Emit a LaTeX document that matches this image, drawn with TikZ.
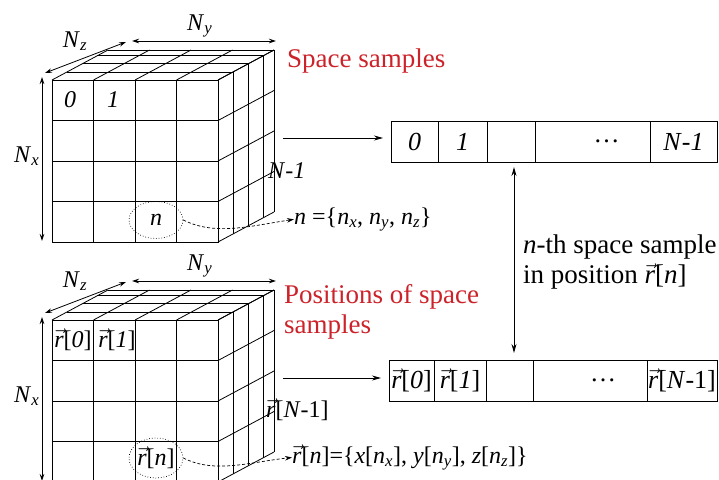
\documentclass[tikz,border=0pt]{standalone}
\usepackage{fontspec}
\setmainfont{Liberation Serif}
\usetikzlibrary{positioning,arrows.meta,calc,shapes.geometric}
\definecolor{labelred}{RGB}{204,34,41}

\newcommand{\vr}{$\vec{\textit{r}}$}
\newcommand{\isub}[2]{\textit{#1}\textsubscript{\textit{#2}}}

% grid of one cube: 4x4 front cells, 4 slices in depth
\newcommand{\drawcube}{%
  \draw[cube] (52,80) rectangle (218,242);
  \foreach \i in {1,2,3} {
    \draw[cube] (52+41.5*\i,80) -- (52+41.5*\i,242);
    \draw[cube] (52,80+40.5*\i) -- (218,80+40.5*\i);
  }
  \foreach \i in {0,...,4}
    \draw[cube] (52+41.5*\i,80) -- ++(56,-30);
  \foreach \j in {0,...,4}
    \draw[cube] (218,80+40.5*\j) -- ++(56,-30);
  \foreach \f in {0.27,0.55,0.81,1} {
    \draw[cube] (52+56*\f,80-30*\f) -- ++(166,0);
    \draw[cube] (218+56*\f,80-30*\f) -- ++(0,162);
  }
}

% dimension arrows and their labels
\newcommand{\cubedims}[1]{%
  \draw[dim] (45,73) -- (126,42);
  \draw[dim] (132,41) -- (276,41);
  \draw[dim] (42,77) -- (42,241);
  \node[lbl, anchor=base] (#1nz) at (75,47) {\isub{N}{z}};
  \node[lbl, anchor=base west] (#1ny) at (187,30) {\isub{N}{y}};
  \node[lbl, anchor=base west] (#1nx) at (14,162) {\isub{N}{x}};
}

\begin{document}
\begin{tikzpicture}[
    x=1pt, y=-1pt,
    cube/.style={line width=0.8pt},
    dim/.style={{Stealth[length=7pt,width=4.5pt]}-{Stealth[length=7pt,width=4.5pt]}, line width=0.8pt},
    arr/.style={-{Stealth[length=9pt,width=5pt]}, line width=0.8pt},
    dbl/.style={{Stealth[length=9pt,width=5pt]}-{Stealth[length=9pt,width=5pt]}, line width=1pt},
    link/.style={-{Stealth[length=7pt,width=4.5pt]}, densely dashed, line width=0.7pt},
    cell/.style={draw, line width=0.8pt, minimum height=41pt, inner sep=0pt, outer sep=0pt, font=\fontsize{26}{30}\selectfont},
    lbl/.style={inner sep=0pt, font=\fontsize{24}{28}\selectfont},
    big/.style={inner sep=0pt, align=left, font=\fontsize{27}{30}\selectfont},
    ring/.style={ellipse, draw, dotted, line width=0.7pt, inner sep=0pt, minimum width=54pt, minimum height=37pt, font=\fontsize{24}{28}\selectfont}
]
\useasboundingbox (0,0) rectangle (719,479);
\clip (0,0) rectangle (719,479);

% space samples cube
\drawcube
\cubedims{a}
\node[lbl] (a0) at (70,100) {\textit{0}};
\node[lbl] (a1) at (113,100) {\textit{1}};
\node[lbl, anchor=base west] (alast) at (268,178) {\textit{N}-\textit{1}};
\node[ring] (aring) at (156,220) {\textit{n}};
\node[lbl, anchor=base west] (aform) at (294,224)
  {\textit{n} =\{\isub{n}{x}, \isub{n}{y}, \isub{n}{z}\}};
\node[big, text=labelred, anchor=base west] (atitle) at (287,67) {Space samples};
\coordinate (aout) at (283,138);

% positions cube
\begin{scope}[shift={(0,240)}]
\drawcube
\cubedims{b}
\end{scope}
\node[lbl] (b0) at (73,340) {\vr[\textit{0}]};
\node[lbl] (b1) at (117,340) {\vr[\textit{1}]};
\node[lbl, anchor=base west] (blast) at (266,417) {\vr[\textit{N}-1]};
\node[ring, minimum height=40pt] (bring) at (156,458) {\vr[\textit{n}]};
\node[lbl, anchor=base west] (bform) at (292,463)
  {\vr[\textit{n}]=\{\textit{x}[\isub{n}{x}], \textit{y}[\isub{n}{y}], \textit{z}[\isub{n}{z}]\}};
\node[big, text=labelred, anchor=north west] (btitle) at (284,284) {Positions of space\\samples};
\coordinate (bout) at (283,378);

% sample arrays
\node[cell, minimum width=47pt, anchor=west] (c0) at (391,141.5) {\textit{0}};
\node[cell, minimum width=49pt, right=0pt of c0] (c1) {\textit{1}};
\node[cell, minimum width=48pt, right=0pt of c1] (c2) {};
\node[cell, minimum width=115pt, right=0pt of c2] (c3) {\hspace*{28pt}\dots};
\node[cell, minimum width=67pt, right=0pt of c3] (c4) {\textit{N}-\textit{1}};

\node[cell, minimum width=45pt, anchor=west] (d0) at (389,380.5) {\vr[\textit{0}]};
\node[cell, minimum width=52pt, right=0pt of d0] (d1) {\vr[\textit{1}]};
\node[cell, minimum width=47pt, right=0pt of d1] (d2) {};
\node[cell, minimum width=114pt, right=0pt of d2] (d3) {\hspace*{26pt}\dots};
\node[cell, minimum width=70pt, right=0pt of d3] (d4) {\vr[\textit{N}-1]};

\node[big, anchor=west] (note) at (523,262) {\textit{n}-th space sample\\in position \vr[\textit{n}]};

\draw[arr, shorten >=8pt] (aout) -- (aout -| c0.west);
\draw[arr, shorten >=8pt] (bout) -- (bout -| d0.west);
\draw[dbl, shorten <=5pt, shorten >=7pt] ([xshift=3pt]c2.south) -- ([xshift=3pt]c2.south |- d2.north);
\draw[link] (aring.east) .. controls (215,236) and (250,226) .. (aform.west);
\draw[link] (bring.east) .. controls (215,474) and (250,462) .. (bform.west);
\end{tikzpicture}
\end{document}
